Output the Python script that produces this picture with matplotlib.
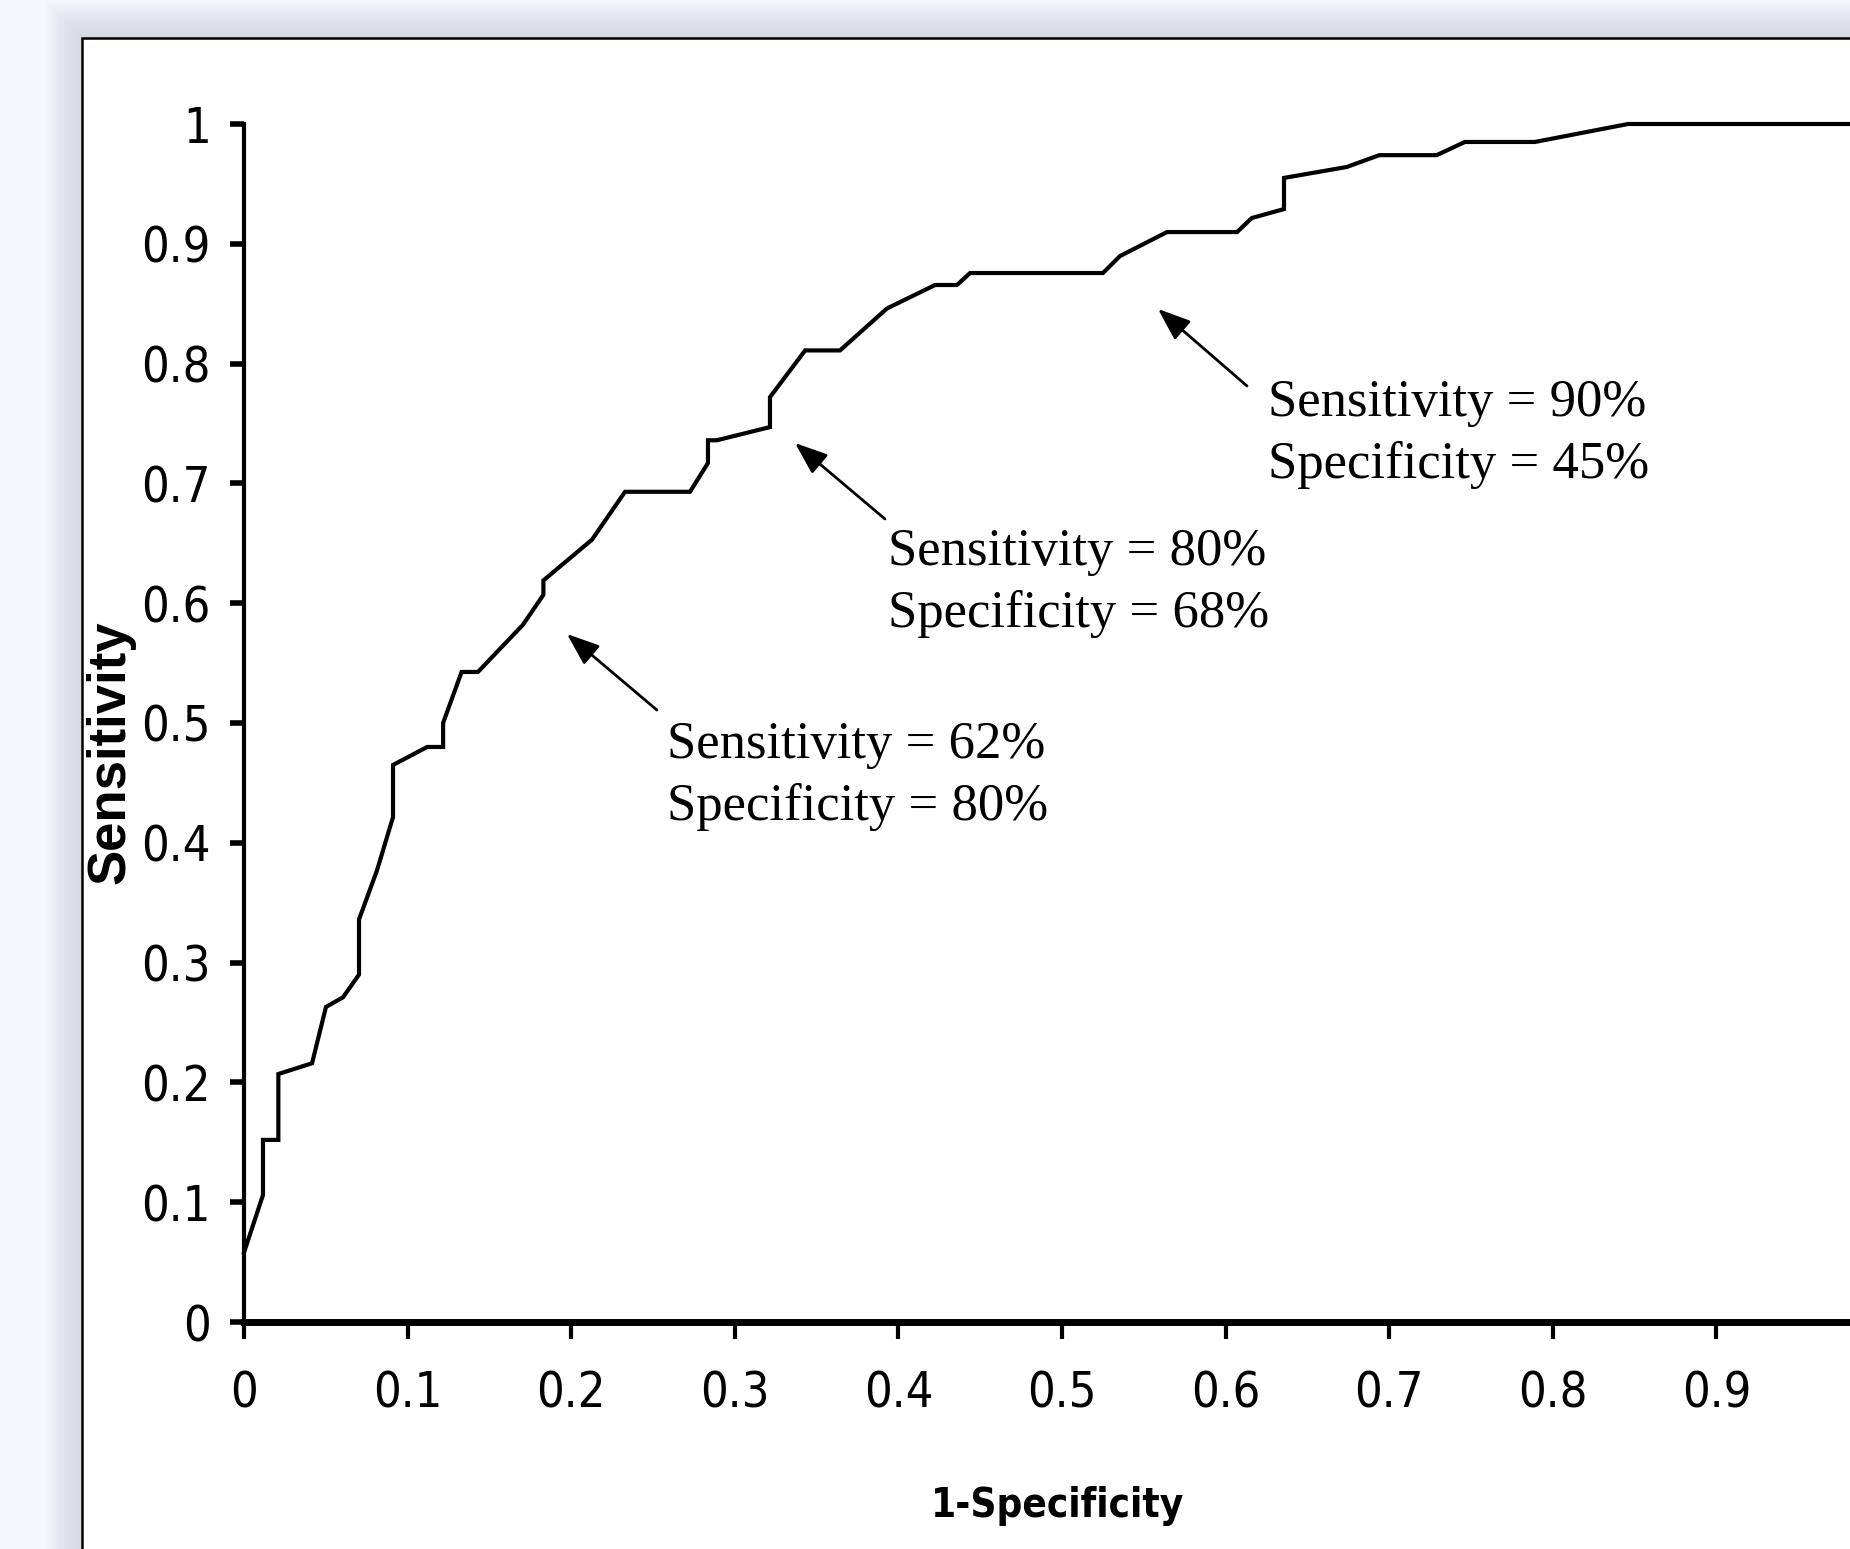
import matplotlib
matplotlib.use("Agg")
import matplotlib.pyplot as plt
from matplotlib import font_manager as fm
from matplotlib.patches import Rectangle

# ROC curve points
fpr = [0, 0.0116, 0.0116, 0.021, 0.021, 0.0416, 0.0501, 0.0605, 0.0703, 0.0703,
       0.0813, 0.0911, 0.0911, 0.112, 0.1217, 0.1217, 0.133, 0.143, 0.1705, 0.183,
       0.183, 0.2127, 0.2329, 0.2726, 0.2836, 0.2836, 0.289, 0.3215, 0.3215, 0.343,
       0.3643, 0.393, 0.4224, 0.4358, 0.4438, 0.525, 0.5355, 0.5642, 0.607, 0.616,
       0.6357, 0.6357, 0.674, 0.694, 0.729, 0.7463, 0.789, 0.846, 1.0]
tpr = [0.058, 0.106, 0.152, 0.152, 0.207, 0.216, 0.263, 0.271, 0.290, 0.336,
       0.377, 0.4215, 0.465, 0.480, 0.480, 0.500, 0.5426, 0.5426, 0.582, 0.607,
       0.619, 0.653, 0.693, 0.693, 0.717, 0.736, 0.736, 0.747, 0.772, 0.811,
       0.811, 0.846, 0.8656, 0.8656, 0.8756, 0.8756, 0.8898, 0.9098, 0.9098, 0.9215,
       0.929, 0.955, 0.9641, 0.974, 0.974, 0.985, 0.985, 1.0, 1.0]

yticks = [0, 0.1, 0.2, 0.3, 0.4, 0.5, 0.6, 0.7, 0.8, 0.9, 1]
ytick_labels = ["0", "0.1", "0.2", "0.3", "0.4", "0.5", "0.6", "0.7", "0.8", "0.9", "1"]
# the x axis runs past the right edge, so its "1" is not in the picture
xticks = [0, 0.1, 0.2, 0.3, 0.4, 0.5, 0.6, 0.7, 0.8, 0.9]
xtick_labels = ["0", "0.1", "0.2", "0.3", "0.4", "0.5", "0.6", "0.7", "0.8", "0.9"]

# annotations: text, text position, arrow head, arrow tail
notes = ["Sensitivity = 62%\nSpecificity = 80%",
         "Sensitivity = 80%\nSpecificity = 68%",
         "Sensitivity = 90%\nSpecificity = 45%"]
note_pos = [(0.2586, 0.456), (0.3936, 0.6165), (0.6259, 0.7415)]
arrow_head = [(0.1974, 0.5743), (0.3368, 0.7337), (0.5587, 0.8456)]
arrow_tail = [(0.2524, 0.5108), (0.3918, 0.6703), (0.6131, 0.7813)]

# pick a narrow sans if there is one
names = {f.name for f in fm.fontManager.ttflist}
cond = [f for f in fm.fontManager.ttflist
        if f.name == "DejaVu Sans" and "ondensed" in str(f.stretch) + f.fname]
if "Liberation Sans Narrow" in names:
    tick_font = dict(family=["Liberation Sans Narrow", "DejaVu Sans"], fontsize=40)
    xlab_font = dict(family=["Liberation Sans Narrow", "DejaVu Sans"], fontsize=34)
elif cond:
    tick_font = dict(family=["DejaVu Sans"], stretch="condensed", fontsize=35)
    xlab_font = dict(family=["DejaVu Sans"], stretch="condensed", fontsize=29)
else:
    tick_font = dict(family=["Liberation Sans", "DejaVu Sans"], fontsize=33)
    xlab_font = dict(family=["Liberation Sans", "DejaVu Sans"], fontsize=27)

fig = plt.figure(figsize=(18.5, 15.49), dpi=100)
fig.patch.set_facecolor("#f4f7fc")

# soft shadow round the white panel
px0, py0 = 82 / 1850, 1 - 38 / 1549
for i in range(12):
    d = (12 - i) * 3
    fig.patches.append(Rectangle((px0 - d / 1850, -0.1), 1.2, py0 + 0.1 + d / 1549,
                                 transform=fig.transFigure, facecolor="#8a93a3",
                                 edgecolor="none", alpha=0.025, zorder=-10))
fig.patches.append(Rectangle((px0, -0.1), 1.2, py0 + 0.1, transform=fig.transFigure,
                             facecolor="white", edgecolor="black", lw=1.8, zorder=-5))

ax = fig.add_axes([244 / 1850, 1 - 1322 / 1549, 1636 / 1850, 1198 / 1549])
ax.patch.set_alpha(0)

ax.plot(fpr, tpr, color="black", lw=3, clip_on=False, solid_joinstyle="miter")

ax.set_xlim(0, 1)
ax.set_ylim(0, 1)
for s in ["top", "right"]:
    ax.spines[s].set_visible(False)
ax.spines["left"].set_linewidth(3)
ax.spines["bottom"].set_linewidth(5)

ax.set_xticks(xticks)
ax.set_xticklabels(xtick_labels, **tick_font)
ax.set_yticks(yticks)
ax.set_yticklabels(ytick_labels, **tick_font)
ax.tick_params(axis="x", direction="out", length=12, width=3, pad=22)
ax.tick_params(axis="y", direction="out", length=10, width=4, pad=14)

fig.text(1058 / 1850, 1 - 1506 / 1549, "1-Specificity", fontweight="bold",
         ha="center", va="center", **xlab_font)
fig.text(110 / 1850, 1 - 752 / 1549, "Sensitivity", family=["Liberation Sans", "DejaVu Sans"],
         fontweight="bold", fontsize=38, ha="center", va="center", rotation=90)

for txt, pos, head, tail in zip(notes, note_pos, arrow_head, arrow_tail):
    ax.annotate("", xy=head, xytext=tail,
                arrowprops=dict(arrowstyle="-|>,head_length=1.0,head_width=0.38",
                                mutation_scale=20, color="black", lw=2,
                                shrinkA=0, shrinkB=0))
    ax.text(pos[0], pos[1], txt, family=["Liberation Serif", "DejaVu Serif"],
            fontsize=38, ha="left", va="center", linespacing=1.38)

fig.savefig("out.png", dpi=100, facecolor=fig.get_facecolor())
